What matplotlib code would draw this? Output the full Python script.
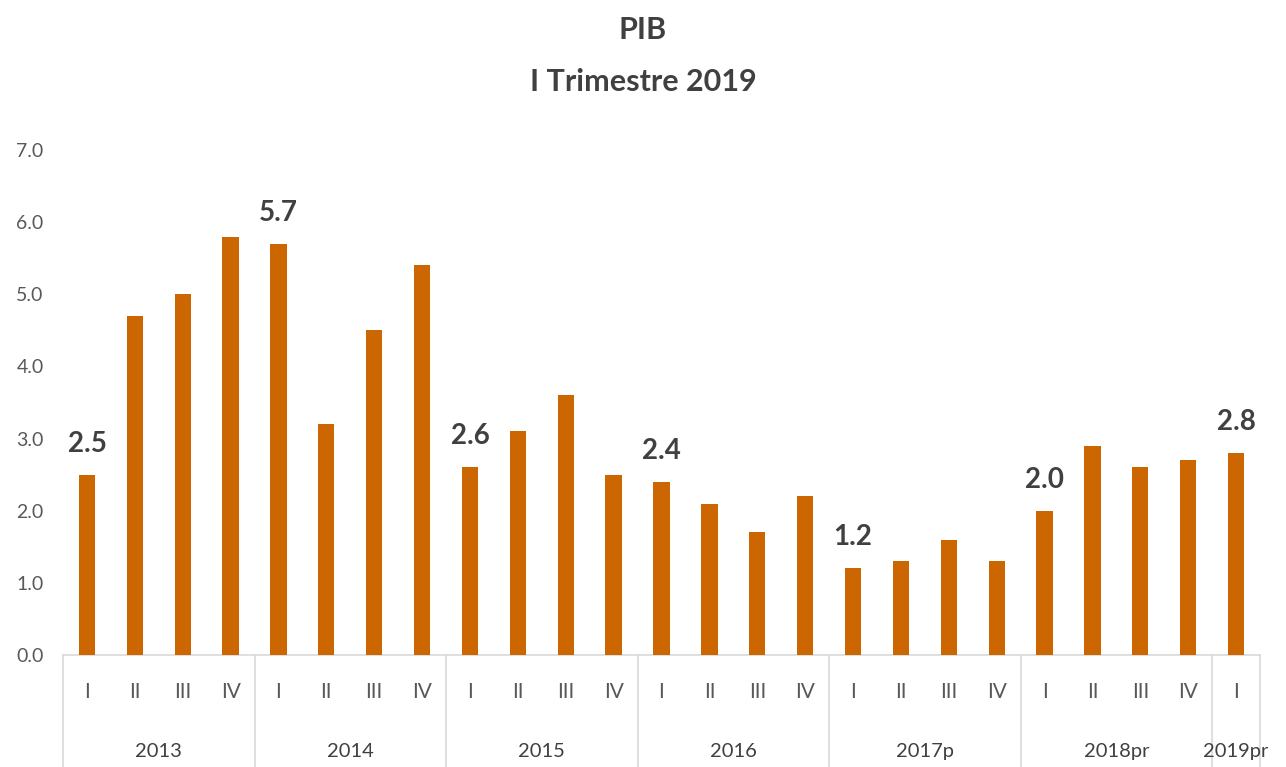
import matplotlib
matplotlib.use('Agg')
import matplotlib.pyplot as plt

plt.rcParams['font.family'] = ['Lato', 'DejaVu Sans']

# PIB growth by quarter (%)
YEARS    = ['2013', '2014', '2015', '2016', '2017p', '2018pr', '2019pr']
QUARTERS = ['I', 'II', 'III', 'IV']
VALUES   = [2.5, 4.7, 5.0, 5.8,
            5.7, 3.2, 4.5, 5.4,
            2.6, 3.1, 3.6, 2.5,
            2.4, 2.1, 1.7, 2.2,
            1.2, 1.3, 1.6, 1.3,
            2.0, 2.9, 2.6, 2.7,
            2.8]

BAR_COLOR  = '#CC6600'
TEXT_COLOR = '#404040'
TICK_COLOR = '#595959'
LINE_COLOR = '#D9D9D9'

fig = plt.figure(figsize=(12.86, 7.67), dpi=100)
ax = fig.add_axes([63 / 1286, 112 / 767, 1197 / 1286, 505 / 767])

n = len(VALUES)
xs = list(range(n))
ax.bar(xs, VALUES, width=0.34, color=BAR_COLOR, zorder=3)

ax.set_xlim(-0.5, n - 0.5)
ax.set_ylim(0, 7)
ax.set_yticks([i for i in range(8)])
ax.set_yticklabels([f'{i:.1f}' for i in range(8)], fontsize=14, color=TICK_COLOR)
ax.tick_params(axis='y', length=0, pad=14)
ax.set_xticks([])
for s in ['top', 'right', 'left']:
    ax.spines[s].set_visible(False)
ax.spines['bottom'].set_color(LINE_COLOR)
ax.spines['bottom'].set_linewidth(1.2)

# data labels on first quarter of every year
for i in range(0, n, 4):
    ax.annotate(f'{VALUES[i]:.1f}', (xs[i], VALUES[i]), xytext=(0, 13),
                textcoords='offset points', ha='center', va='bottom',
                fontsize=20, fontweight='bold', color=TEXT_COLOR)

# two-level category axis
trans = ax.get_xaxis_transform()
for i in range(n):
    ax.text(xs[i], -0.073, QUARTERS[i % 4], transform=trans, ha='center', va='center',
            fontsize=15, color=TICK_COLOR)
bounds = list(range(0, n, 4)) + [n]
for k, yr in enumerate(YEARS):
    lo, hi = bounds[k] - 0.5, bounds[k + 1] - 0.5
    ax.text((lo + hi) / 2, -0.192, yr, transform=trans, ha='center', va='center',
            fontsize=14.5, color=TEXT_COLOR)
for b in bounds:
    ax.plot([b - 0.5, b - 0.5], [0, -0.25], transform=trans, color=LINE_COLOR,
            lw=1.2, clip_on=False)

fig.text(0.5, 1 - 30 / 767, 'PIB', ha='center', va='center',
         fontsize=22, fontweight='bold', color=TEXT_COLOR)
fig.text(0.5, 1 - 82 / 767, 'I Trimestre 2019', ha='center', va='center',
         fontsize=22, fontweight='bold', color=TEXT_COLOR)

fig.savefig('out.png', dpi=100)
